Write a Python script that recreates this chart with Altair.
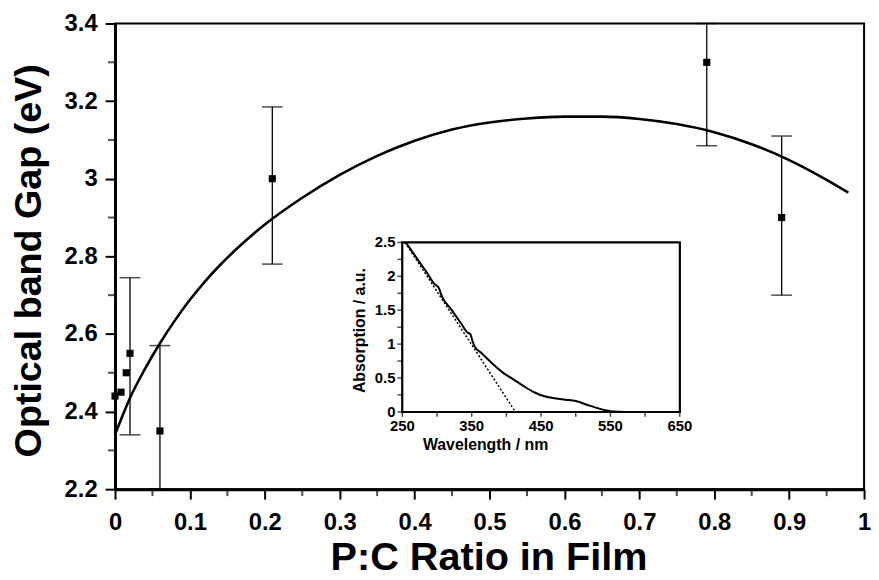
import altair as alt
import pandas as pd

FONT = "Liberation Sans"

# ---- main data: optical band gap vs P:C ratio ----
ratio = [0.0, 0.008, 0.015, 0.02, 0.06, 0.21, 0.79, 0.89]
gap = [2.44, 2.45, 2.50, 2.55, 2.35, 3.00, 3.30, 2.90]

err_ratio = [0.02, 0.06, 0.21, 0.79, 0.89]
err_low = [2.34, 2.20, 2.78, 3.085, 2.70]
err_high = [2.745, 2.57, 3.185, 3.40, 3.11]

fit_ratio = [0.0, 0.01, 0.02, 0.04, 0.06, 0.08, 0.10, 0.12, 0.14, 0.16, 0.18,
             0.20, 0.25, 0.30, 0.35, 0.40, 0.45, 0.50, 0.55, 0.60, 0.65, 0.70,
             0.75, 0.80, 0.85, 0.90, 0.95, 0.979]
fit_gap = [2.34, 2.389, 2.435, 2.51, 2.576, 2.635, 2.688, 2.735, 2.777, 2.815,
           2.85, 2.882, 2.951, 3.01, 3.059, 3.098, 3.127, 3.145, 3.155, 3.160,
           3.160, 3.154, 3.141, 3.120, 3.089, 3.048, 2.997, 2.964]

x_major = [0.0, 0.1, 0.2, 0.3, 0.4, 0.5, 0.6, 0.7, 0.8, 0.9, 1.0]
x_minor = [0.05, 0.15, 0.25, 0.35, 0.45, 0.55, 0.65, 0.75, 0.85, 0.95]
y_major = [2.2, 2.4, 2.6, 2.8, 3.0, 3.2, 3.4]
y_minor = [2.3, 2.5, 2.7, 2.9, 3.1, 3.3]

# ---- inset data: absorption spectrum ----
wavelength = [255, 270, 285, 297, 300, 303, 306, 320, 335, 344, 348, 351, 354,
              365, 380, 395, 410, 425, 440, 455, 470, 485, 500, 515, 530, 545,
              555, 570]
absorption = [2.50, 2.28, 2.06, 1.88, 1.86, 1.82, 1.73, 1.52, 1.30, 1.17, 1.15,
              1.05, 0.97, 0.86, 0.71, 0.58, 0.48, 0.38, 0.29, 0.23, 0.20, 0.18,
              0.16, 0.11, 0.06, 0.02, 0.005, 0.0]
tangent_wl = [254, 413]
tangent_abs = [2.5, 0.0]

ix_ticks = [250, 300, 350, 400, 450, 500, 550, 600, 650]
ix_label_values = [250, 350, 450, 550, 650]
ix_labels = ["250", "350", "450", "550", "650"]
iy_ticks = [0.0, 0.25, 0.5, 0.75, 1.0, 1.25, 1.5, 1.75, 2.0, 2.25, 2.5]
iy_label_values = [0.0, 0.5, 1.0, 1.5, 2.0, 2.5]
iy_labels = ["0", "0.5", "1", "1.5", "2", "2.5"]

points_df = pd.DataFrame({"ratio": ratio, "gap": gap})
err_df = pd.DataFrame({"ratio": err_ratio, "lo": err_low, "hi": err_high})
fit_df = pd.DataFrame({"ratio": fit_ratio, "gap": fit_gap})
spec_df = pd.DataFrame({"wl": wavelength, "ab": absorption})
tan_df = pd.DataFrame({"wl": tangent_wl, "ab": tangent_abs})
xminor_df = pd.DataFrame({"ratio": x_minor})
yminor_df = pd.DataFrame({"gap": y_minor})
ixt_df = pd.DataFrame({"wl": ix_ticks})
iyt_df = pd.DataFrame({"ab": iy_ticks})
ixl_df = pd.DataFrame({"wl": ix_label_values, "txt": ix_labels})
iyl_df = pd.DataFrame({"ab": iy_label_values, "txt": iy_labels})

W, H = 756, 470

main_x = alt.Scale(domain=[0, 1], nice=False, zero=False)
main_y = alt.Scale(domain=[2.2, 3.4], nice=False, zero=False)

x_axis = alt.Axis(
    values=x_major, format="~g",
    tickSize=10, tickWidth=2, tickColor="black", domainWidth=3, domainColor="black",
    labelFont=FONT, labelFontSize=24, labelFontWeight="bold", labelColor="black",
    labelPadding=12, labelOverlap=False, labelFlush=False, labelBound=False,
    title="P:C Ratio in Film", titleFont=FONT, titleFontSize=40, titleFontWeight="bold",
    titleColor="black", titleX=377, titleY=81, titleBaseline="alphabetic", titleAlign="center",
    grid=False, orient="bottom", zindex=1,
)
y_axis = alt.Axis(
    values=y_major, format="~g",
    tickSize=10, tickWidth=2, tickColor="black", domainWidth=3, domainColor="black",
    labelFont=FONT, labelFontSize=24, labelFontWeight="bold", labelColor="black",
    labelPadding=8, labelOverlap=False, labelFlush=False, labelBound=False,
    title="Optical band Gap (eV)", titleFont=FONT, titleFontSize=38, titleFontWeight="bold",
    titleColor="black", titleX=-86, titleY=239, titleAngle=270, titleBaseline="middle",
    titleAlign="center", grid=False, orient="left", zindex=1,
)


def X(f):
    return alt.X(f, scale=main_x, axis=x_axis)


def Y(f):
    return alt.Y(f, scale=main_y, axis=y_axis)


fit = alt.Chart(fit_df).mark_line(color="black", strokeWidth=2.6, interpolate="monotone").encode(
    x=X("ratio:Q"), y=Y("gap:Q"),
)
bars = alt.Chart(err_df).mark_rule(color="black", strokeWidth=1.3).encode(
    x=X("ratio:Q"), y=Y("lo:Q"), y2="hi:Q",
)
caps_lo = alt.Chart(err_df).mark_tick(color="black", orient="horizontal", size=21, thickness=1.5).encode(
    x=X("ratio:Q"), y=Y("lo:Q"),
)
caps_hi = alt.Chart(err_df).mark_tick(color="black", orient="horizontal", size=21, thickness=1.5).encode(
    x=X("ratio:Q"), y=Y("hi:Q"),
)
pts = alt.Chart(points_df).mark_square(color="black", size=52, opacity=1).encode(
    x=X("ratio:Q"), y=Y("gap:Q"),
)
# minor ticks on the main axes (outward, shorter)
xminor = alt.Chart(xminor_df).mark_tick(color="black", orient="vertical", size=7, thickness=2,
                                         yOffset=3.5, clip=False).encode(
    x=X("ratio:Q"), y=alt.Y(datum=2.2, type="quantitative", scale=main_y, axis=y_axis),
)
yminor = alt.Chart(yminor_df).mark_tick(color="black", orient="horizontal", size=7, thickness=2,
                                         xOffset=-3.5, clip=False).encode(
    y=Y("gap:Q"), x=alt.X(datum=0, type="quantitative", scale=main_x, axis=x_axis),
)
main = alt.layer(fit, bars, caps_lo, caps_hi, pts, xminor, yminor)

# ---- inset (own scales placed inside the main plot area) ----
ix_scale = alt.Scale(domain=[250, 650], range=[290, 570], nice=False, zero=False)
iy_scale = alt.Scale(domain=[0, 2.5], range=[392, 221], nice=False, zero=False)


def IX(f=None, datum=None):
    if datum is not None:
        return alt.X(datum=datum, type="quantitative", scale=ix_scale, axis=None)
    return alt.X(f, scale=ix_scale, axis=None)


def IY(f=None, datum=None):
    if datum is not None:
        return alt.Y(datum=datum, type="quantitative", scale=iy_scale, axis=None)
    return alt.Y(f, scale=iy_scale, axis=None)


frame = alt.Chart(tan_df).mark_rect(fill="white", stroke="black", strokeWidth=2).encode(
    x=IX(datum=250), x2=alt.X2(datum=650), y=IY(datum=0), y2=alt.Y2(datum=2.5),
)
ix_tick_marks = alt.Chart(ixt_df).mark_tick(color="black", orient="vertical", size=5, thickness=1.5,
                                             yOffset=2.5).encode(x=IX("wl:Q"), y=IY(datum=0))
iy_tick_marks = alt.Chart(iyt_df).mark_tick(color="black", orient="horizontal", size=5, thickness=1.5,
                                             xOffset=-2.5).encode(y=IY("ab:Q"), x=IX(datum=250))
ix_label_marks = alt.Chart(ixl_df).mark_text(font=FONT, fontSize=15, fontWeight="bold", color="black",
                                              baseline="top", yOffset=7).encode(
    x=IX("wl:Q"), y=IY(datum=0), text="txt:N")
iy_label_marks = alt.Chart(iyl_df).mark_text(font=FONT, fontSize=15, fontWeight="bold", color="black",
                                              align="right", baseline="middle", xOffset=-7).encode(
    y=IY("ab:Q"), x=IX(datum=250), text="txt:N")
ix_title = alt.Chart(tan_df.head(1)).mark_text(font=FONT, fontSize=16, fontWeight="bold", color="black",
                                                baseline="alphabetic", yOffset=38).encode(
    x=IX(datum=370), y=IY(datum=0), text=alt.value("Wavelength / nm"))
iy_title = alt.Chart(tan_df.head(1)).mark_text(font=FONT, fontSize=16, fontWeight="bold", color="black",
                                                angle=270, baseline="middle", xOffset=-43).encode(
    x=IX(datum=250), y=IY(datum=1.2), text=alt.value("Absorption / a.u."))
spec = alt.Chart(spec_df).mark_line(color="black", strokeWidth=2, interpolate="monotone").encode(
    x=IX("wl:Q"), y=IY("ab:Q"),
)
tan = alt.Chart(tan_df).mark_line(color="black", strokeWidth=1.5, strokeDash=[2, 2]).encode(
    x=IX("wl:Q"), y=IY("ab:Q"),
)
inset = alt.layer(frame, tan, spec, ix_tick_marks, iy_tick_marks, ix_label_marks, iy_label_marks,
                  ix_title, iy_title)

# inset layer first, main layer on top
chart = alt.layer(inset, main).resolve_scale(x="independent", y="independent").properties(
    width=W, height=H,
    autosize=alt.AutoSizeParams(type="none"),
    padding={"left": 108, "top": 13, "right": 7, "bottom": 87},
).configure_view(stroke="black", strokeWidth=2)

chart.save("out.html", embed_options={"renderer": "svg", "actions": False})
